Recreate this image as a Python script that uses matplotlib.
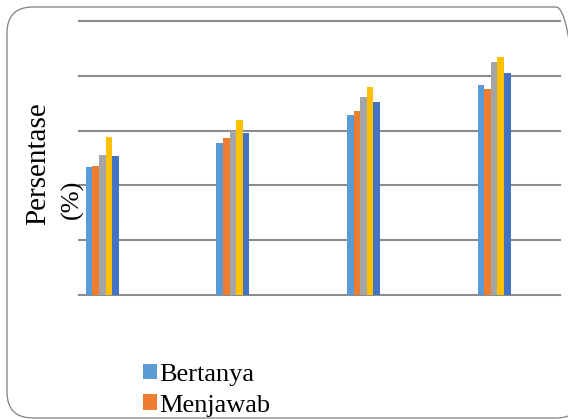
import matplotlib
matplotlib.use("Agg")
import matplotlib.pyplot as plt
from matplotlib.patches import FancyBboxPatch, Patch
from matplotlib.transforms import IdentityTransform
import numpy as np

plt.rcParams['font.family'] = ['Liberation Serif', 'DejaVu Serif']

categories = ["1", "2", "3", "4"]
series_names = ["Bertanya", "Menjawab", "Menanggapi", "Mengemukakan Pendapat", "Menyimpulkan"]
bertanya = [23.4, 27.7, 32.8, 38.4]
menjawab = [23.6, 28.6, 33.5, 37.5]
menanggapi = [25.6, 30.0, 36.2, 42.6]
pendapat = [28.8, 31.9, 38.0, 43.5]
menyimpulkan = [25.3, 29.5, 35.2, 40.6]
grid_values = [0, 10, 20, 30, 40, 50]
colors = ["#5B9BD5", "#ED7D31", "#A5A5A5", "#FFC000", "#4472C4"]

series = [bertanya, menjawab, menanggapi, pendapat, menyimpulkan]

W, H = 568, 419
fig = plt.figure(figsize=(W / 100, H / 100), dpi=100)

ax = fig.add_axes([79 / W, 1 - 295 / H, 481 / W, 274 / H])
x = np.arange(len(categories))
bw = 0.0505
for i, (vals, c) in enumerate(zip(series, colors)):
    ax.bar(x + (i - 2) * bw, vals, width=bw, color=c, zorder=3, linewidth=0)

for g in grid_values:
    ax.axhline(g, color="#8c8c8c", lw=1.5, zorder=1, clip_on=False)

ax.set_xlim(-0.178, 3.505)
ax.set_ylim(grid_values[0], grid_values[-1])
ax.set_xticks([])
ax.set_yticks([])
for s in ax.spines.values():
    s.set_visible(False)
ax.patch.set_alpha(0)

fig.text(38 / W, 1 - 164 / H, "Persentase", rotation=90, ha="center", va="center", fontsize=21)
fig.text(72 / W, 1 - 199 / H, "(%)", rotation=90, ha="center", va="center", fontsize=19)

# only the first two legend rows fit inside the picture
handles = [Patch(facecolor=c, edgecolor="none") for c in colors[:2]]
fig.legend(handles, series_names[:2], loc="upper left", bbox_to_anchor=(143 / W, 1 - 364 / H),
           frameon=False, fontsize=19, handlelength=0.52, handleheight=0.52,
           handletextpad=0.1, labelspacing=0.32, borderpad=0, borderaxespad=0)

# outer rounded frame, in pixels (right edge lies just outside the picture)
border = FancyBboxPatch((7, 1), 575, 411,
                        boxstyle="round,pad=0,rounding_size=26",
                        transform=IdentityTransform(), fill=False,
                        edgecolor="#808080", lw=0.9)
fig.patches.append(border)

fig.savefig("out.png", dpi=100)
